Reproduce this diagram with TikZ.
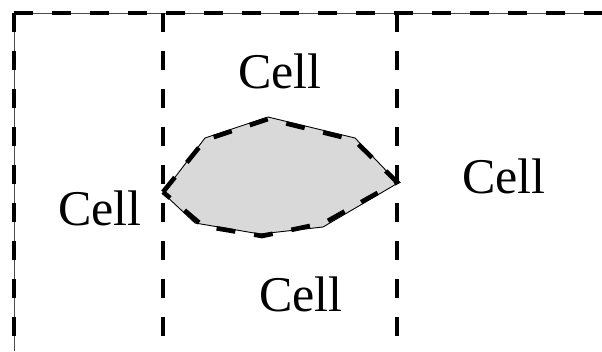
\documentclass[tikz,border=0pt]{standalone}
\usepackage{fontspec}
\setmainfont{Liberation Serif}
\begin{document}
\begin{tikzpicture}[x=1pt,y=-1pt,
  thinline/.style={line width=1pt,draw=black!70},
  boundary/.style={line width=4.6pt,dash pattern=on 19pt off 19pt,line cap=butt},
  region/.style={fill=black!15,draw=black,line width=0.9pt,line join=miter},
  celltext/.style={font=\fontsize{50}{52}\selectfont,inner sep=0pt,anchor=base}]
\useasboundingbox (0,0) rectangle (602,351);
% thin solid frame under the dashed cut lines
\draw[thinline] (14,351) -- (14,13) -- (602,13);
% the polygonal region
\fill[region] (163,193) -- (205,138) -- (268,117) -- (355,138) -- (398,183)
  -- (323,227) -- (260,234) -- (195,223) -- cycle;
% dashed cell boundaries
\draw[boundary] (14,13) -- (602,13);
\draw[boundary] (14,13) -- (14,351);
\draw[boundary] (163,13) -- (163,351);
\draw[boundary] (397,13) -- (397,351);
% dashed outline of the region
\draw[boundary,line join=miter] (163,192) -- (205,140) -- (268,119) -- (354,140)
  -- (397,182) -- (324,223) -- (262,236) -- (203,226) -- cycle;
% labels
\node[celltext] (celltop) at (280,88) {Cell};
\node[celltext] (cellleft) at (100,225) {Cell};
\node[celltext] (cellright) at (504,193) {Cell};
\node[celltext] (cellbottom) at (301,311) {Cell};
\end{tikzpicture}
\end{document}
